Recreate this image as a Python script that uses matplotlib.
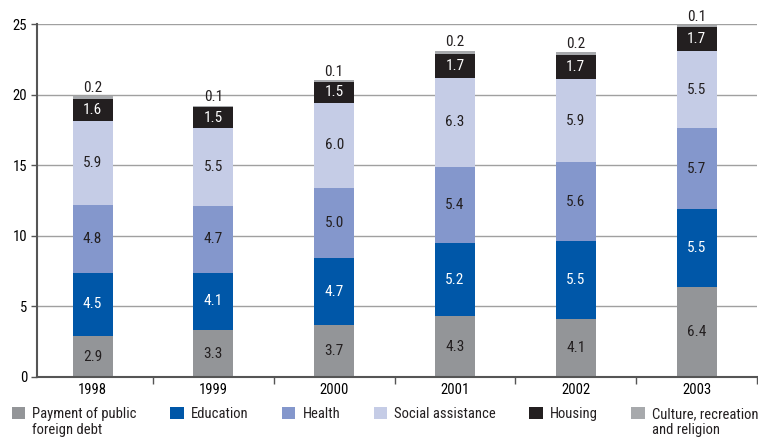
import numpy as np
import matplotlib
matplotlib.use("Agg")
import matplotlib.pyplot as plt
from matplotlib.patches import Patch
from matplotlib import font_manager

years = ["1998", "1999", "2000", "2001", "2002", "2003"]
debt = [2.9, 3.3, 3.7, 4.3, 4.1, 6.4]
education = [4.5, 4.1, 4.7, 5.2, 5.5, 5.5]
health = [4.8, 4.7, 5.0, 5.4, 5.6, 5.7]
social = [5.9, 5.5, 6.0, 6.3, 5.9, 5.5]
housing = [1.6, 1.5, 1.5, 1.7, 1.7, 1.7]
culture = [0.2, 0.1, 0.1, 0.2, 0.2, 0.1]

series_names = ["Payment of public\nforeign debt", "Education", "Health",
                "Social assistance", "Housing", "Culture, recreation\nand religion"]
colors = ["#939598", "#0057a8", "#8497cc", "#c5cce6", "#231f20", "#a7a9ac"]
text_colors = ["#231f20", "white", "#231f20", "#231f20", "white", "#231f20"]

names = {f.name for f in font_manager.fontManager.ttflist}
family = [f for f in ["Liberation Sans Narrow", "Roboto Condensed", "Liberation Sans"] if f in names]
plt.rcParams["font.family"] = family + ["DejaVu Sans"]

fig = plt.figure(figsize=(7.58, 4.41), dpi=100)
ax = fig.add_axes([37 / 758, 64 / 441, 720 / 758, 353 / 441])

x = np.arange(len(years))
data = [debt, education, health, social, housing, culture]
bottom = np.zeros(len(years))
for i, (vals, col) in enumerate(zip(data, colors)):
    vals = np.array(vals)
    ax.bar(x, vals, 0.33, bottom=bottom, color=col, zorder=2, label=series_names[i])
    for xi, b, v in zip(x, bottom, vals):
        if i == 5:
            ax.text(xi, b + v + 0.1, f"{v:.1f}", ha="center", va="bottom",
                    fontsize=11, color="#231f20")
        else:
            ax.text(xi, b + v / 2, f"{v:.1f}", ha="center", va="center",
                    fontsize=11, color=text_colors[i])
    bottom += vals

ax.set_xlim(-0.46, 5.49)
ax.set_ylim(0, 25)
ax.set_yticks(np.arange(0, 26, 5))
ax.yaxis.grid(True, color="#a0a0a0", linewidth=1.0, zorder=0)
ax.set_axisbelow(True)
ax.set_xticks(x)
ax.set_xticklabels(years, fontsize=10.5)
ax.set_xticks(np.arange(0.5, 5.6, 1), minor=True)
ax.tick_params(axis="x", which="major", length=0, pad=4)
ax.tick_params(axis="x", which="minor", length=5, width=1, color="#555555")
ax.tick_params(axis="y", length=4, width=1, color="#555555", labelsize=10.5, pad=3)
for s in ["top", "right"]:
    ax.spines[s].set_visible(False)
ax.spines["left"].set_color("#555555")
ax.spines["left"].set_linewidth(1.5)
ax.spines["bottom"].set_color("#555555")
ax.spines["bottom"].set_linewidth(1.5)

handles = [Patch(facecolor=c) for c in colors]
leg = fig.legend(handles, series_names, loc="upper left", bbox_to_anchor=(12 / 758, 1 - 407 / 441),
                 ncol=6, frameon=False, fontsize=10.5, handlelength=0.9, handleheight=0.9,
                 handletextpad=0.5, columnspacing=2.3, borderaxespad=0, borderpad=0,
                 labelspacing=0)
for t in leg.get_texts():
    t.set_color("#231f20")
# put the square next to the first line of two-line labels, and line up all columns at the top
leg._legend_handle_box.align = "top"
for col in leg._legend_handle_box.get_children():
    for item in col.get_children():
        item.align = "top"

fig.savefig("out.png", dpi=100)
